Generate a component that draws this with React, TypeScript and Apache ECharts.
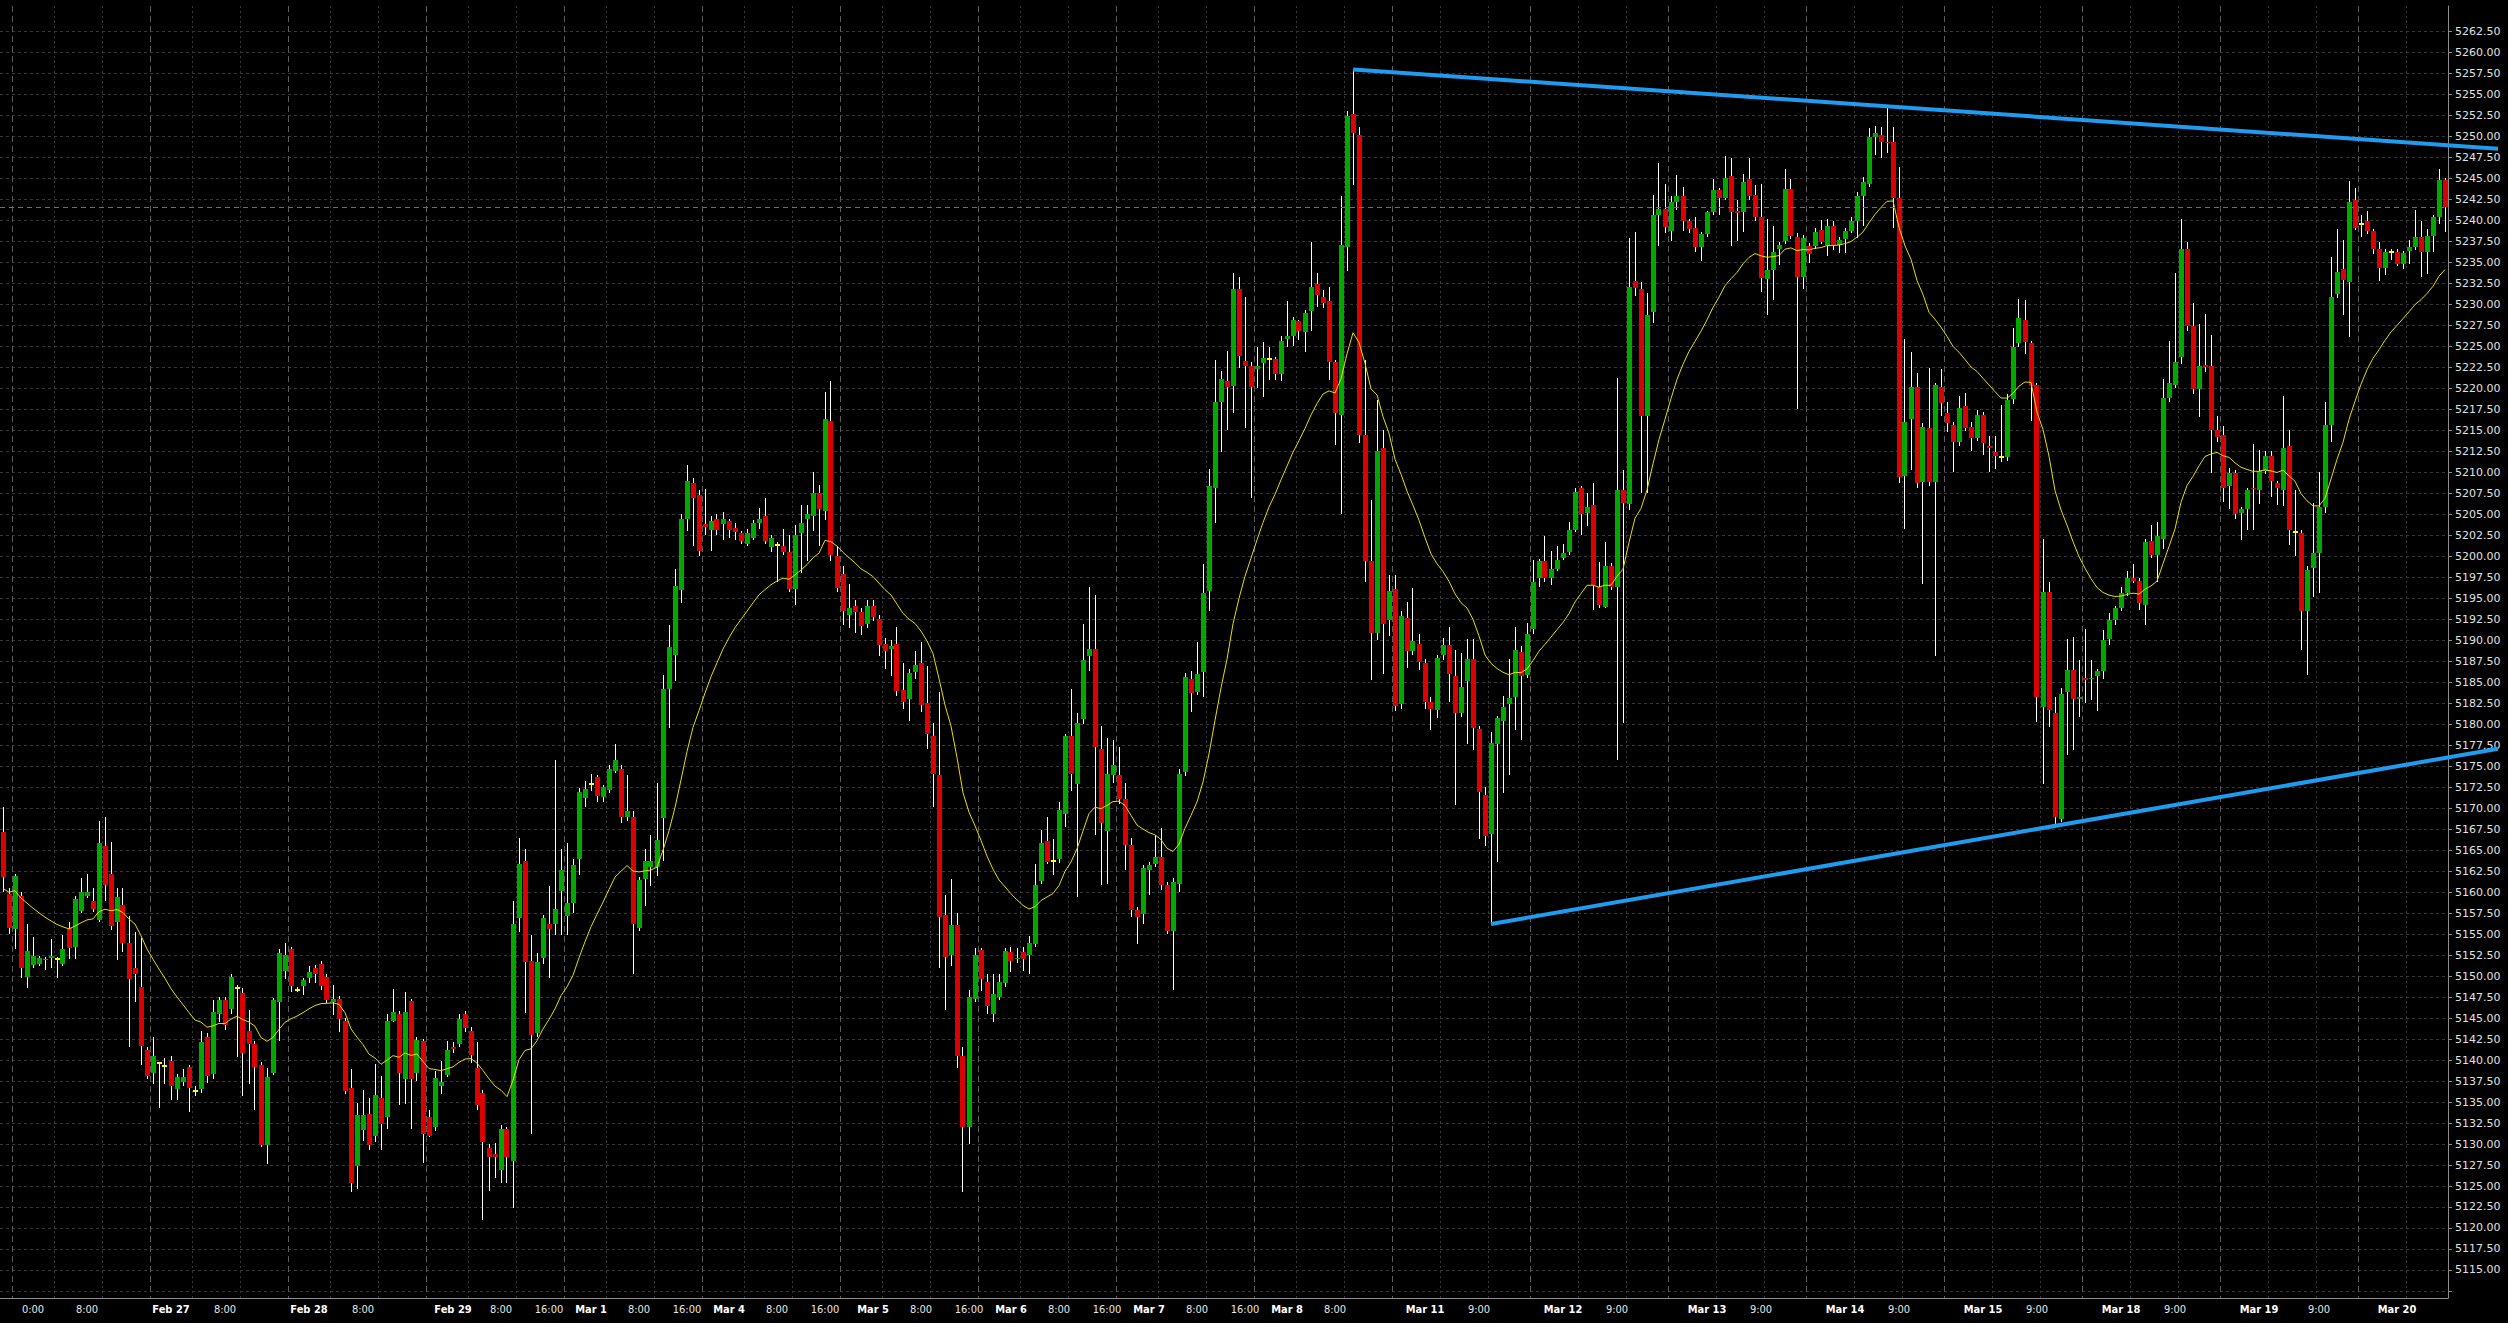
import React, { useEffect, useRef } from "react";
import * as echarts from "echarts";

// [open, high, low, close] per hourly candle, grouped by trading session
const FEB23_TAIL = [
  [5167.2, 5170.2, 5160.0, 5161.8], [5159.8, 5160.5, 5155.0, 5155.7],
];
const FEB26 = [
  [5155.6, 5162.2, 5153.2, 5161.9], [5159.6, 5160.0, 5149.8, 5151.0], [5149.9, 5156.2, 5148.6, 5153.0],
  [5151.3, 5154.7, 5151.0, 5152.4], [5151.5, 5152.4, 5151.2, 5152.2], [5151.9, 5152.3, 5150.7, 5152.1],
  [5152.2, 5154.4, 5151.0, 5152.4], [5152.1, 5152.3, 5149.8, 5152.1], [5151.5, 5154.9, 5151.2, 5153.2],
  [5155.7, 5156.4, 5152.1, 5153.3], [5153.5, 5159.5, 5152.1, 5159.2], [5157.8, 5161.7, 5157.5, 5160.0],
  [5159.5, 5162.2, 5159.3, 5160.0], [5159.0, 5160.5, 5157.6, 5158.0], [5156.7, 5168.5, 5156.5, 5165.8],
  [5165.5, 5169.0, 5158.9, 5160.8], [5162.2, 5166.0, 5155.5, 5156.0], [5156.5, 5160.5, 5151.9, 5159.4],
  [5158.5, 5160.5, 5152.9, 5154.0], [5154.0, 5157.2, 5141.6, 5149.7], [5151.0, 5155.2, 5146.9, 5150.3],
  [5148.7, 5154.6, 5139.4, 5141.7], [5141.2, 5141.5, 5137.8, 5138.1],
];
const FEB27 = [
  [5138.5, 5142.7, 5137.1, 5140.5], [5139.6, 5139.8, 5134.3, 5139.6], [5139.3, 5140.3, 5137.1, 5139.3],
  [5139.9, 5140.5, 5135.2, 5136.9], [5136.5, 5138.3, 5135.2, 5138.0], [5137.4, 5138.9, 5136.9, 5138.0],
  [5139.2, 5139.4, 5133.8, 5136.7], [5136.3, 5136.9, 5135.7, 5136.3], [5136.5, 5143.5, 5136.1, 5142.2],
  [5142.8, 5143.2, 5137.3, 5138.1], [5138.3, 5147.1, 5137.8, 5145.7], [5145.5, 5147.5, 5144.5, 5147.1],
  [5147.1, 5147.5, 5143.6, 5144.2], [5146.1, 5150.2, 5145.5, 5149.9], [5148.6, 5149.0, 5140.4, 5148.6],
  [5148.0, 5148.6, 5135.7, 5140.8], [5143.5, 5146.0, 5137.1, 5141.9], [5141.9, 5142.3, 5134.0, 5139.2],
  [5139.4, 5139.8, 5129.6, 5129.9], [5129.9, 5139.0, 5127.6, 5138.0], [5138.5, 5147.4, 5138.2, 5147.1],
  [5146.9, 5153.2, 5142.3, 5152.8], [5150.6, 5154.0, 5149.6, 5152.5],
];
const FEB28 = [
  [5153.2, 5153.5, 5148.1, 5148.8], [5148.4, 5148.7, 5148.1, 5148.4], [5148.8, 5149.8, 5147.7, 5149.5],
  [5149.8, 5151.2, 5149.2, 5150.5], [5151.0, 5151.3, 5149.2, 5150.2], [5151.5, 5151.8, 5148.4, 5148.8],
  [5149.9, 5150.2, 5146.8, 5147.2], [5146.9, 5149.0, 5145.4, 5147.3], [5147.3, 5147.6, 5143.4, 5144.9],
  [5144.7, 5145.0, 5136.0, 5136.3], [5136.7, 5138.9, 5124.3, 5125.3], [5127.4, 5134.9, 5124.6, 5133.4],
  [5131.7, 5136.4, 5130.4, 5133.4], [5133.6, 5135.5, 5129.3, 5129.9], [5130.9, 5139.5, 5130.2, 5135.9],
  [5135.5, 5138.1, 5129.3, 5132.4], [5133.2, 5145.5, 5131.8, 5144.6], [5144.7, 5148.5, 5144.5, 5145.7],
  [5145.5, 5145.8, 5134.6, 5138.5], [5137.8, 5148.1, 5134.8, 5145.7], [5147.0, 5147.3, 5131.8, 5137.8],
  [5138.5, 5142.7, 5137.5, 5142.4], [5142.3, 5142.5, 5127.7, 5131.2],
];
const FEB29 = [
  [5133.2, 5134.1, 5130.8, 5131.0], [5132.0, 5138.7, 5131.5, 5137.9], [5136.9, 5139.9, 5136.0, 5137.4],
  [5138.2, 5142.3, 5138.0, 5141.2], [5141.6, 5142.1, 5140.8, 5141.3], [5141.9, 5145.5, 5141.5, 5144.9],
  [5145.5, 5145.8, 5143.4, 5143.8], [5143.5, 5144.0, 5139.6, 5140.6], [5139.1, 5142.1, 5134.0, 5134.6],
  [5136.1, 5136.4, 5120.9, 5130.3], [5129.5, 5130.0, 5124.4, 5128.5], [5128.8, 5130.1, 5125.9, 5128.5],
  [5126.9, 5132.3, 5125.3, 5131.8], [5131.8, 5132.0, 5125.3, 5128.4], [5128.0, 5158.9, 5122.4, 5156.2],
  [5156.9, 5166.4, 5155.2, 5163.3], [5163.7, 5165.2, 5145.6, 5151.7], [5151.8, 5154.9, 5131.2, 5143.0],
  [5143.2, 5152.7, 5142.7, 5151.7], [5152.2, 5157.3, 5151.5, 5156.9], [5156.2, 5160.7, 5149.8, 5155.6],
  [5156.2, 5175.8, 5154.9, 5158.0], [5160.1, 5165.2, 5154.9, 5162.7],
];
const MAR01 = [
  [5157.2, 5165.9, 5154.9, 5158.7], [5158.7, 5164.0, 5157.5, 5163.2], [5164.0, 5172.4, 5162.0, 5171.9],
  [5171.2, 5173.3, 5170.1, 5172.3], [5172.9, 5174.1, 5172.0, 5172.9], [5173.7, 5174.0, 5170.7, 5171.5],
  [5171.3, 5172.8, 5170.7, 5172.5], [5172.2, 5175.2, 5171.8, 5174.7], [5174.4, 5177.7, 5174.2, 5175.8],
  [5174.7, 5175.2, 5168.2, 5169.0], [5169.0, 5173.9, 5168.5, 5169.7], [5169.0, 5169.7, 5150.2, 5156.2],
  [5155.7, 5161.8, 5155.4, 5161.5], [5161.6, 5165.1, 5158.4, 5163.7], [5163.0, 5166.8, 5160.7, 5163.7],
  [5163.0, 5173.0, 5161.9, 5166.2], [5168.8, 5185.9, 5163.7, 5184.2], [5184.2, 5191.8, 5179.5, 5189.2],
  [5188.3, 5198.5, 5185.1, 5196.5], [5196.0, 5205.0, 5194.5, 5204.5], [5204.5, 5210.9, 5203.0, 5209.0],
  [5208.8, 5209.3, 5201.2, 5207.0], [5207.3, 5207.9, 5200.0, 5200.6],
];
const MAR04 = [
  [5203.9, 5208.0, 5202.5, 5203.5], [5203.1, 5204.8, 5200.7, 5204.2], [5204.5, 5205.1, 5202.5, 5203.1],
  [5203.9, 5205.3, 5201.9, 5204.5], [5204.2, 5204.5, 5202.2, 5203.1], [5203.4, 5204.0, 5202.0, 5202.9],
  [5202.8, 5203.0, 5201.5, 5201.8], [5201.5, 5203.3, 5201.2, 5202.8], [5202.2, 5204.3, 5201.9, 5204.0],
  [5204.0, 5205.8, 5203.3, 5204.5], [5204.8, 5207.0, 5201.5, 5201.8], [5201.1, 5202.5, 5200.5, 5202.2],
  [5201.4, 5201.7, 5196.9, 5201.4], [5201.2, 5203.3, 5200.2, 5200.5], [5200.5, 5202.6, 5195.8, 5196.1],
  [5196.1, 5203.7, 5194.2, 5202.6], [5202.8, 5206.1, 5198.0, 5204.0], [5204.5, 5206.1, 5199.5, 5205.1],
  [5204.8, 5210.0, 5203.0, 5207.6], [5207.6, 5208.5, 5201.2, 5205.6], [5205.4, 5219.6, 5204.3, 5216.4],
  [5216.1, 5220.9, 5199.5, 5200.2], [5200.1, 5201.2, 5195.8, 5196.2],
];
const MAR05 = [
  [5197.9, 5198.8, 5191.8, 5193.5], [5193.0, 5196.7, 5191.5, 5193.8], [5194.1, 5194.8, 5190.9, 5193.4],
  [5193.4, 5193.8, 5190.6, 5191.7], [5191.9, 5194.8, 5191.5, 5194.1], [5194.1, 5194.8, 5192.3, 5192.8],
  [5192.6, 5193.0, 5188.1, 5189.4], [5189.6, 5190.3, 5186.6, 5188.7], [5189.0, 5190.0, 5185.8, 5189.3],
  [5189.6, 5191.6, 5183.4, 5184.0], [5184.1, 5187.3, 5181.8, 5182.7], [5183.0, 5186.6, 5180.4, 5186.1],
  [5186.2, 5188.7, 5185.4, 5187.1], [5187.3, 5189.8, 5181.5, 5182.3], [5182.5, 5187.0, 5177.0, 5178.9],
  [5178.6, 5180.1, 5170.1, 5174.1], [5173.9, 5183.8, 5151.0, 5157.1], [5157.3, 5159.7, 5146.0, 5152.3],
  [5152.5, 5161.6, 5151.2, 5156.1], [5156.1, 5157.5, 5139.0, 5140.5], [5140.5, 5141.5, 5124.3, 5132.0],
  [5132.0, 5148.3, 5130.0, 5147.5], [5147.3, 5153.4, 5146.9, 5152.5],
];
const MAR06 = [
  [5153.1, 5153.4, 5148.2, 5149.6], [5149.3, 5150.2, 5145.5, 5146.5], [5145.5, 5150.3, 5144.5, 5147.9],
  [5147.5, 5150.3, 5147.1, 5149.3], [5149.2, 5153.4, 5148.7, 5153.0], [5152.9, 5153.5, 5150.5, 5151.8],
  [5152.0, 5153.4, 5151.6, 5152.2], [5152.9, 5153.5, 5150.6, 5152.1], [5152.5, 5154.8, 5150.2, 5154.0],
  [5153.8, 5163.3, 5153.5, 5160.9], [5161.3, 5167.4, 5161.0, 5165.9], [5166.1, 5168.9, 5163.3, 5163.6],
  [5163.7, 5166.3, 5162.0, 5163.7], [5163.9, 5170.7, 5163.5, 5169.8], [5169.3, 5178.9, 5167.8, 5178.6],
  [5178.6, 5184.2, 5172.0, 5174.1], [5172.9, 5181.4, 5159.4, 5180.1], [5180.6, 5192.0, 5180.0, 5187.6],
  [5188.1, 5196.3, 5186.3, 5189.0], [5189.0, 5195.4, 5166.8, 5177.3], [5177.0, 5179.8, 5160.9, 5168.2],
  [5167.3, 5178.4, 5161.0, 5174.1], [5173.9, 5178.1, 5173.0, 5175.2],
];
const MAR07 = [
  [5173.9, 5177.3, 5170.5, 5171.1], [5171.1, 5173.0, 5162.7, 5165.6], [5165.6, 5166.5, 5157.1, 5157.9],
  [5157.9, 5158.2, 5153.8, 5157.1], [5157.4, 5163.2, 5156.2, 5162.9], [5162.7, 5163.6, 5159.7, 5163.2],
  [5163.3, 5166.8, 5163.0, 5164.2], [5164.2, 5167.6, 5160.3, 5160.9], [5160.9, 5161.2, 5155.0, 5155.4],
  [5155.4, 5161.7, 5148.4, 5161.2], [5161.0, 5174.7, 5160.0, 5174.1], [5174.3, 5186.1, 5173.8, 5185.6],
  [5185.4, 5186.3, 5181.5, 5183.7], [5183.8, 5189.8, 5183.5, 5186.0], [5186.2, 5199.1, 5183.3, 5195.6],
  [5195.9, 5210.4, 5193.5, 5208.4], [5208.2, 5223.4, 5204.0, 5218.4], [5218.4, 5222.1, 5212.4, 5221.1],
  [5220.9, 5224.5, 5215.1, 5220.2], [5220.3, 5233.7, 5217.1, 5231.9], [5231.9, 5233.3, 5222.4, 5223.9],
  [5223.3, 5230.9, 5215.3, 5222.7], [5222.7, 5223.1, 5207.0, 5220.2],
];
const MAR08 = [
  [5222.3, 5225.0, 5220.1, 5222.7], [5223.0, 5225.5, 5219.0, 5223.6], [5223.5, 5224.9, 5221.0, 5223.5],
  [5223.5, 5223.8, 5221.0, 5221.7], [5221.7, 5226.3, 5220.9, 5225.6], [5225.9, 5230.4, 5225.0, 5226.2],
  [5226.2, 5228.5, 5225.1, 5228.2], [5228.0, 5228.2, 5225.8, 5226.9], [5226.7, 5229.4, 5224.3, 5229.0],
  [5229.2, 5237.4, 5226.8, 5232.1], [5232.4, 5233.7, 5229.7, 5231.1], [5230.9, 5231.7, 5229.6, 5230.2],
  [5230.4, 5232.1, 5221.0, 5223.2], [5223.1, 5223.4, 5213.3, 5217.1], [5216.9, 5242.9, 5205.1, 5237.1],
  [5236.9, 5253.0, 5234.0, 5252.5], [5252.7, 5258.0, 5244.2, 5250.4], [5250.2, 5251.1, 5213.5, 5214.5],
  [5214.4, 5223.4, 5196.9, 5199.5], [5199.5, 5206.7, 5185.3, 5190.9], [5190.9, 5218.6, 5190.0, 5212.5],
  [5212.9, 5215.0, 5186.0, 5191.9], [5192.4, 5197.8, 5190.5, 5195.9],
];
const MAR11 = [
  [5196.1, 5197.8, 5181.6, 5182.2], [5182.4, 5193.5, 5181.8, 5192.9], [5192.7, 5194.6, 5186.7, 5188.7],
  [5188.7, 5196.2, 5188.3, 5189.9], [5189.6, 5190.8, 5186.5, 5187.4], [5187.3, 5187.8, 5181.8, 5182.7],
  [5182.7, 5183.2, 5179.3, 5181.8], [5181.7, 5188.2, 5180.8, 5187.9], [5188.2, 5190.3, 5187.7, 5189.4],
  [5189.4, 5191.6, 5182.6, 5186.0], [5185.8, 5188.9, 5170.4, 5181.4], [5181.4, 5188.5, 5180.9, 5184.4],
  [5185.2, 5190.2, 5177.6, 5187.8], [5187.8, 5190.2, 5176.9, 5179.6], [5179.4, 5179.8, 5166.3, 5171.9],
  [5171.6, 5172.5, 5165.5, 5166.7], [5166.9, 5179.1, 5156.2, 5177.8], [5177.7, 5181.0, 5163.6, 5180.7],
  [5180.4, 5183.4, 5171.8, 5182.0], [5182.4, 5187.8, 5174.0, 5183.1], [5183.2, 5191.6, 5179.3, 5188.9],
  [5188.6, 5189.3, 5178.1, 5185.8], [5185.9, 5192.1, 5185.5, 5190.8],
];
const MAR12 = [
  [5191.3, 5199.6, 5190.8, 5197.0], [5197.4, 5199.7, 5196.4, 5199.4], [5199.4, 5202.4, 5197.0, 5197.4],
  [5197.4, 5200.6, 5196.6, 5198.5], [5198.5, 5201.2, 5198.2, 5199.6], [5199.8, 5201.5, 5199.6, 5200.4],
  [5200.5, 5204.1, 5200.2, 5203.2], [5203.2, 5208.2, 5202.9, 5207.7], [5208.1, 5208.4, 5202.6, 5205.1],
  [5205.2, 5207.5, 5203.6, 5205.9], [5206.1, 5208.8, 5193.6, 5196.6], [5196.4, 5199.3, 5193.8, 5194.2],
  [5194.0, 5201.7, 5193.9, 5198.8], [5198.8, 5199.2, 5196.0, 5196.4], [5196.4, 5221.2, 5175.8, 5207.9],
  [5207.9, 5210.3, 5180.1, 5206.3], [5206.2, 5237.9, 5205.5, 5232.1], [5232.8, 5238.6, 5231.0, 5232.0],
  [5231.9, 5232.7, 5207.6, 5216.7], [5216.7, 5231.4, 5207.6, 5228.8], [5229.1, 5243.1, 5227.8, 5240.7],
  [5240.7, 5246.9, 5237.0, 5241.4], [5241.4, 5244.3, 5238.5, 5239.2],
];
const MAR13 = [
  [5238.7, 5242.9, 5237.6, 5242.2], [5242.2, 5245.4, 5241.3, 5242.9], [5242.9, 5244.0, 5238.8, 5239.9],
  [5239.9, 5240.2, 5238.5, 5239.0], [5239.1, 5240.4, 5236.2, 5236.9], [5236.9, 5238.6, 5235.2, 5238.4],
  [5238.4, 5241.2, 5238.0, 5241.0], [5241.0, 5244.9, 5240.7, 5243.6], [5243.6, 5243.9, 5240.7, 5242.7],
  [5242.7, 5247.7, 5242.4, 5245.1], [5245.3, 5247.4, 5237.0, 5241.0], [5241.1, 5242.5, 5237.6, 5240.9],
  [5241.0, 5245.5, 5238.6, 5244.6], [5244.9, 5247.5, 5242.5, 5242.9], [5243.1, 5244.2, 5239.9, 5240.4],
  [5240.4, 5244.3, 5231.5, 5233.2], [5233.1, 5240.2, 5228.8, 5234.1], [5234.1, 5239.3, 5230.5, 5236.3],
  [5236.6, 5237.5, 5234.7, 5237.1], [5237.6, 5246.1, 5237.2, 5243.8], [5243.8, 5245.0, 5237.8, 5238.2],
  [5238.1, 5238.5, 5217.6, 5233.3], [5233.3, 5238.3, 5231.9, 5237.9],
];
const MAR14 = [
  [5237.0, 5237.3, 5234.9, 5236.0], [5237.0, 5239.1, 5236.6, 5238.6], [5238.9, 5240.1, 5237.2, 5237.5],
  [5237.1, 5240.2, 5235.8, 5239.3], [5239.3, 5240.0, 5236.5, 5237.1], [5237.1, 5238.1, 5236.1, 5237.7],
  [5237.8, 5239.1, 5236.1, 5238.8], [5238.8, 5240.4, 5238.5, 5239.9], [5239.9, 5243.4, 5237.9, 5242.9],
  [5242.9, 5245.2, 5239.4, 5244.6], [5244.4, 5251.0, 5244.0, 5250.0], [5250.0, 5251.3, 5247.8, 5250.4],
  [5250.2, 5251.2, 5247.5, 5249.4], [5249.4, 5253.5, 5248.1, 5249.2], [5249.4, 5251.1, 5239.1, 5242.7],
  [5242.7, 5246.4, 5208.8, 5209.4], [5209.6, 5225.9, 5203.3, 5216.0], [5216.4, 5224.4, 5210.3, 5220.2],
  [5220.2, 5221.8, 5208.2, 5208.8], [5208.9, 5215.9, 5196.7, 5215.4], [5215.3, 5222.4, 5208.4, 5208.9],
  [5208.9, 5220.6, 5188.1, 5220.4], [5220.2, 5222.3, 5216.7, 5218.3],
];
const MAR15 = [
  [5217.1, 5218.4, 5214.8, 5215.9], [5215.7, 5216.0, 5210.1, 5213.6], [5213.6, 5219.1, 5213.1, 5217.7],
  [5217.9, 5219.5, 5214.9, 5215.3], [5215.4, 5216.0, 5212.6, 5214.1], [5214.1, 5217.4, 5213.7, 5216.9],
  [5216.9, 5217.2, 5212.1, 5213.5], [5213.2, 5214.3, 5210.1, 5212.9], [5212.4, 5214.3, 5210.4, 5212.0],
  [5211.8, 5218.0, 5211.3, 5211.8], [5211.8, 5219.3, 5211.4, 5218.6], [5218.8, 5227.2, 5218.2, 5224.9],
  [5225.4, 5230.6, 5225.0, 5228.4], [5228.1, 5230.5, 5224.1, 5225.5], [5225.4, 5225.7, 5216.1, 5220.3],
  [5220.4, 5220.6, 5180.3, 5183.2], [5182.1, 5202.1, 5172.9, 5195.7], [5195.8, 5196.9, 5179.7, 5181.7],
  [5181.4, 5183.3, 5167.7, 5169.0], [5168.7, 5184.3, 5168.4, 5183.6], [5183.9, 5190.1, 5176.3, 5186.5],
  [5186.5, 5190.4, 5176.9, 5183.0], [5183.0, 5187.6, 5180.9, 5183.3],
];
const MAR18 = [
  [5185.5, 5191.3, 5182.5, 5185.3], [5185.4, 5187.6, 5182.9, 5185.5], [5185.7, 5186.6, 5181.6, 5186.3],
  [5186.3, 5191.2, 5185.4, 5190.0], [5190.2, 5193.3, 5189.4, 5192.4], [5192.4, 5194.1, 5191.8, 5193.8],
  [5193.8, 5196.4, 5193.5, 5195.6], [5195.6, 5198.2, 5195.3, 5197.4], [5197.4, 5199.1, 5196.8, 5197.1],
  [5197.1, 5197.4, 5193.6, 5194.4], [5194.2, 5202.1, 5191.8, 5201.7], [5201.8, 5203.7, 5199.8, 5200.2],
  [5200.2, 5204.1, 5197.0, 5202.4], [5202.1, 5221.1, 5200.9, 5218.9], [5218.9, 5225.7, 5218.4, 5220.7],
  [5220.4, 5233.7, 5220.1, 5223.1], [5223.7, 5240.2, 5222.9, 5236.6], [5236.6, 5237.4, 5226.8, 5227.4],
  [5227.4, 5230.2, 5219.3, 5219.9], [5219.9, 5227.7, 5216.6, 5222.7], [5222.8, 5228.9, 5222.0, 5222.5],
  [5222.7, 5226.4, 5209.9, 5215.0], [5215.0, 5216.7, 5213.6, 5214.2],
];
const MAR19 = [
  [5214.4, 5215.5, 5206.5, 5208.2], [5208.4, 5210.5, 5205.6, 5209.9], [5209.9, 5210.3, 5204.4, 5205.0],
  [5205.2, 5205.9, 5202.0, 5205.6], [5205.6, 5208.2, 5203.2, 5207.9], [5208.2, 5213.4, 5203.2, 5208.0],
  [5207.9, 5212.7, 5206.2, 5210.2], [5210.2, 5212.5, 5209.8, 5211.9], [5211.9, 5212.5, 5207.1, 5209.0],
  [5208.7, 5209.0, 5206.1, 5208.2], [5207.9, 5219.1, 5206.0, 5212.9], [5213.2, 5215.1, 5201.4, 5203.1],
  [5202.9, 5207.9, 5200.1, 5202.9], [5202.8, 5203.1, 5188.8, 5193.5], [5193.5, 5198.9, 5185.9, 5198.4],
  [5198.6, 5206.4, 5195.2, 5200.4], [5200.4, 5210.0, 5195.6, 5205.9], [5205.9, 5218.4, 5205.2, 5215.6],
  [5215.6, 5235.7, 5213.6, 5230.9], [5231.2, 5239.0, 5230.8, 5233.9], [5234.2, 5237.7, 5228.8, 5232.9],
  [5232.7, 5244.7, 5226.1, 5242.2], [5242.4, 5243.9, 5238.9, 5239.1],
];
const MAR20 = [
  [5239.6, 5240.7, 5238.1, 5239.6], [5239.9, 5241.1, 5238.4, 5238.7], [5238.7, 5239.0, 5236.0, 5236.6],
  [5236.6, 5237.4, 5232.8, 5234.3], [5234.3, 5236.6, 5233.5, 5236.3], [5236.3, 5236.6, 5235.3, 5236.3],
  [5236.3, 5236.6, 5234.6, 5234.8], [5234.8, 5236.4, 5234.2, 5236.1], [5236.4, 5237.7, 5234.8, 5236.9],
  [5236.9, 5241.3, 5236.5, 5238.1], [5238.0, 5240.0, 5233.3, 5236.2], [5236.2, 5239.0, 5233.6, 5238.2],
  [5238.2, 5240.7, 5236.3, 5240.4], [5240.4, 5246.1, 5239.6, 5244.8], [5244.8, 5245.1, 5238.6, 5241.6],
];

const SESSIONS = [FEB26, FEB27, FEB28, FEB29, MAR01, MAR04, MAR05, MAR06, MAR07, MAR08,
  MAR11, MAR12, MAR13, MAR14, MAR15, MAR18, MAR19, MAR20];

// grid line offsets inside each session (hour lines)
const HOUR_LINE_A = [7, 7, 7, 7, 7, 7, 7, 7, 7, 7, 8, 8, 8, 8, 8, 8, 8, 8];
const HOUR_LINE_B = [15, 15, 15, 15, 15, 15, 15, 15, 15, 15, 16, 16, 16, 16, 16, 16, 16, 0];

// x-axis labels (text and candle index under the label's centre)
const X_LABEL_TEXT = ["0:00", "8:00", "Feb 27", "8:00", "Feb 28", "8:00", "Feb 29", "8:00", "16:00",
  "Mar 1", "8:00", "16:00", "Mar 4", "8:00", "16:00", "Mar 5", "8:00", "16:00", "Mar 6", "8:00", "16:00",
  "Mar 7", "8:00", "16:00", "Mar 8", "8:00", "Mar 11", "9:00", "Mar 12", "9:00", "Mar 13", "9:00",
  "Mar 14", "9:00", "Mar 15", "9:00", "Mar 18", "9:00", "Mar 19", "9:00", "Mar 20"];
const X_LABEL_INDEX = [5, 14, 28, 37, 51, 60, 75, 83, 91, 98, 106, 114, 121, 129, 137, 145, 153, 161,
  168, 176, 184, 191, 199, 207, 214, 222, 237, 246, 260, 269, 284, 293, 307, 316, 330, 339, 353, 362,
  376, 386, 399];

const Y_TICKS = [5112.5, 5115, 5117.5, 5120, 5122.5, 5125, 5127.5, 5130, 5132.5, 5135, 5137.5, 5140, 5142.5,
  5145, 5147.5, 5150, 5152.5, 5155, 5157.5, 5160, 5162.5, 5165, 5167.5, 5170, 5172.5, 5175, 5177.5, 5180,
  5182.5, 5185, 5187.5, 5190, 5192.5, 5195, 5197.5, 5200, 5202.5, 5205, 5207.5, 5210, 5212.5, 5215, 5217.5,
  5220, 5222.5, 5225, 5227.5, 5230, 5232.5, 5235, 5237.5, 5240, 5242.5, 5245, 5247.5, 5250, 5252.5, 5255,
  5257.5, 5260, 5262.5];
const Y_MIN = 5111.66;
const Y_MAX = 5265.56;

const EMA_PERIOD = 20;
const EMA_SEED = 5160.3;

// trend lines: two anchor points [candle index, price]
const TREND_UPPER = [[225, 5258.0], [314, 5253.6]];
const TREND_LOWER = [[248, 5156.2], [342, 5167.9]];

const W = 2508;
const H = 1323;
const GRID_TOP = 6;
const GRID_BOTTOM = 25;
const GRID_RIGHT = 60;
const TREND_EXT_RIGHT = 10;

const GREEN = "#00a800";
const RED = "#dc0000";
const DOJI = "#ffff00";

export default function App() {
  const ref = useRef<HTMLDivElement>(null);

  useEffect(() => {
    document.body.style.margin = "0";
    document.body.style.background = "#000";
    if (!ref.current) return;
    const chart = echarts.init(ref.current, undefined, { renderer: "svg" });

    const candles: number[][] = [...FEB23_TAIL, ...SESSIONS.flat()];
    const N = candles.length;
    const cats = candles.map((_, i) => String(i));
    const data = candles.map((c, i) => [i, c[0], c[1], c[2], c[3]]);

    const starts: number[] = [];
    let acc = FEB23_TAIL.length;
    SESSIONS.forEach((s) => { starts.push(acc); acc += s.length; });
    const dayStartSet = new Set(starts);
    const hourLines = new Set<number>();
    starts.forEach((s, k) => {
      hourLines.add(s + HOUR_LINE_A[k]);
      if (HOUR_LINE_B[k]) hourLines.add(s + HOUR_LINE_B[k]);
    });

    const labelAt = new Map<number, string>();
    X_LABEL_INDEX.forEach((idx, k) => labelAt.set(idx, X_LABEL_TEXT[k]));

    const ema: number[] = [];
    let prev = EMA_SEED;
    const a = 2 / (EMA_PERIOD + 1);
    candles.forEach((c) => { prev = prev + (c[3] - prev) * a; ema.push(+prev.toFixed(3)); });
    const lastClose = candles[N - 1][3];

    const plotW = W - GRID_RIGHT;
    const band = plotW / N;
    const x2max = -0.5 + (plotW + (GRID_RIGHT - TREND_EXT_RIGHT)) / band;
    const extend = (t: number[][]) => {
      const [[x0, v0], [x1, v1]] = t;
      const slope = (v1 - v0) / (x1 - x0);
      return [[x0, v0], [x2max, v0 + slope * (x2max - x0)]];
    };

    const labelFont = "'DejaVu Sans Condensed', 'DejaVu Sans'";
    const option: any = {
      animation: false,
      backgroundColor: "#000000",
      grid: [
        { left: 0, right: GRID_RIGHT, top: GRID_TOP, bottom: GRID_BOTTOM, outerBoundsMode: "none", containLabel: false },
        { left: 0, right: TREND_EXT_RIGHT, top: GRID_TOP, bottom: GRID_BOTTOM, outerBoundsMode: "none", containLabel: false },
      ],
      xAxis: [
        {
          type: "category", gridIndex: 0, data: cats, boundaryGap: true,
          axisLine: { show: true, lineStyle: { color: "#8c8c8c", width: 1 } },
          axisTick: { show: false },
          axisLabel: {
            show: true, interval: (i: number) => labelAt.has(i), hideOverlap: false,
            align: "center", margin: 6,
            formatter: (_v: string, i: number) => {
              const t = labelAt.get(i) || "";
              return /^[A-Z]/.test(t) ? `{d|${t}}` : `{t|${t}}`;
            },
            rich: {
              d: { fontFamily: labelFont, fontWeight: "bold", fontSize: 11, color: "#ffffff" },
              t: { fontFamily: labelFont, fontSize: 11, color: "#e6e6e6" },
            },
          },
          splitLine: { show: true, interval: (i: number) => hourLines.has(i), lineStyle: { color: "#383838", width: 1, type: [2, 3] } },
        },
        {
          type: "category", gridIndex: 0, data: cats, boundaryGap: true, position: "bottom",
          axisLine: { show: false }, axisTick: { show: false }, axisLabel: { show: false },
          splitLine: { show: true, interval: (i: number) => dayStartSet.has(i), lineStyle: { color: "#5c5c5c", width: 1, type: [6, 4] } },
        },
        { type: "value", gridIndex: 1, min: -0.5, max: x2max, show: false },
      ],
      yAxis: [
        {
          type: "value", gridIndex: 0, position: "right", min: Y_MIN, max: Y_MAX, scale: true,
          axisLine: { show: true, lineStyle: { color: "#8c8c8c", width: 1 } },
          axisTick: { show: true, customValues: Y_TICKS, length: 4, inside: false, lineStyle: { color: "#8c8c8c" } },
          axisLabel: {
            show: true, customValues: Y_TICKS.slice(1), margin: 7,
            formatter: (v: number) => v.toFixed(2),
            color: "#e0e0e0", fontFamily: "'DejaVu Sans'", fontSize: 11,
          },
          splitLine: { show: true, lineStyle: { color: "#363636", width: 1, type: [3, 3] } },
        },
        { type: "value", gridIndex: 1, min: Y_MIN, max: Y_MAX, show: false },
      ],
      series: [
        {
          type: "custom", xAxisIndex: 0, yAxisIndex: 0, data, z: 2,
          encode: { x: 0, y: [1, 2, 3, 4] },
          renderItem: (_p: any, api: any) => {
            const i = api.value(0);
            const o = api.value(1), h = api.value(2), l = api.value(3), c = api.value(4);
            const pO = api.coord([i, o]);
            const yC = api.coord([i, c])[1];
            const yH = api.coord([i, h])[1];
            const yL = api.coord([i, l])[1];
            const bandW = api.size([1, 0])[0];
            const bw = Math.max(1, Math.round(bandW) - 1);
            const left = Math.round(pO[0] - bw / 2);
            const wx = left + Math.floor(bw / 2) + 0.5;
            const children: any[] = [
              { type: "line", shape: { x1: wx, y1: Math.round(yH), x2: wx, y2: Math.round(yL) }, style: { stroke: "#ffffff", lineWidth: 1 } },
            ];
            if (o === c) {
              children.push({ type: "rect", shape: { x: left, y: Math.round(pO[1]) - 1, width: bw, height: 2 }, style: { fill: DOJI } });
            } else {
              const top = Math.round(Math.min(pO[1], yC));
              const bot = Math.round(Math.max(pO[1], yC));
              children.push({ type: "rect", shape: { x: left, y: top, width: bw, height: Math.max(1, bot - top) }, style: { fill: c > o ? GREEN : RED } });
            }
            return { type: "group", children };
          },
        },
        {
          type: "line", xAxisIndex: 0, yAxisIndex: 0, data: ema, z: 3,
          showSymbol: false, symbol: "none", smooth: false,
          lineStyle: { color: "#ecdc00", width: 1 },
          markLine: {
            silent: true, symbol: ["none", "none"], label: { show: false },
            lineStyle: { color: "#6e6e6e", width: 1, type: [5, 4] },
            data: [{ yAxis: lastClose }],
          },
        },
        {
          type: "line", xAxisIndex: 2, yAxisIndex: 1, data: extend(TREND_UPPER), z: 5,
          showSymbol: false, symbol: "none", lineStyle: { color: "#1f9bf0", width: 4 },
        },
        {
          type: "line", xAxisIndex: 2, yAxisIndex: 1, data: extend(TREND_LOWER), z: 5,
          showSymbol: false, symbol: "none", lineStyle: { color: "#1f9bf0", width: 4 },
        },
      ],
    };

    chart.setOption(option);
    return () => chart.dispose();
  }, []);

  return <div ref={ref} style={{ width: W, height: H, background: "#000" }} />;
}
